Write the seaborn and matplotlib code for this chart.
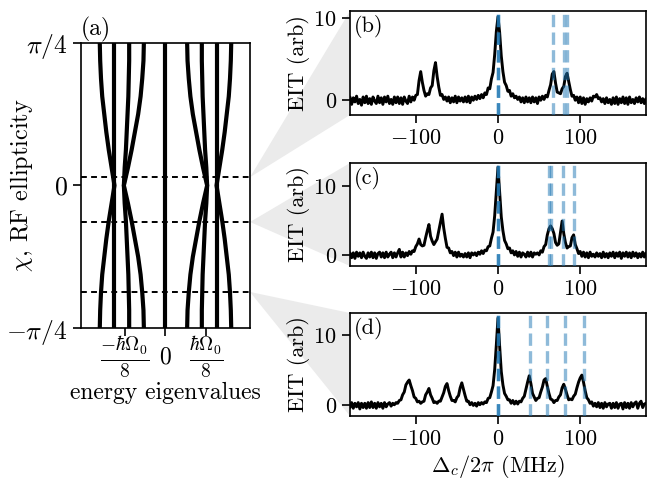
import numpy as np
import matplotlib
matplotlib.use('Agg')
import matplotlib.pyplot as plt
from matplotlib.patches import Polygon
import seaborn as sns

sns.set_style('ticks')
plt.rcParams.update({
    'font.family': 'serif',
    'font.serif': ['cmr10'],
    'mathtext.fontset': 'cm',
    'axes.formatter.use_mathtext': True,
    'axes.unicode_minus': True,
    'font.size': 16,
    'axes.linewidth': 1.2,
    'xtick.major.width': 1.2, 'ytick.major.width': 1.2,
    'xtick.major.size': 6, 'ytick.major.size': 6,
    'xtick.direction': 'out', 'ytick.direction': 'out',
    'axes.edgecolor': 'black', 'xtick.color': 'black', 'ytick.color': 'black',
    'text.color': 'black', 'axes.labelcolor': 'black',
})

# ---------------- panel (a): energy eigenvalues vs ellipticity ----------------
# chi in units of pi/4
chi_levels = [-1.0, -0.875, -0.75, -0.625, -0.5, -0.375, -0.25, -0.125, 0.0,
              0.125, 0.25, 0.375, 0.5, 0.625, 0.75, 0.875, 1.0]
# energies in units of hbar*Omega0/8
level_A = [-1.61, -1.60, -1.58, -1.55, -1.50, -1.45, -1.39, -1.32, -1.25,
           -1.32, -1.39, -1.45, -1.50, -1.55, -1.58, -1.60, -1.61]
level_B = [-1.26, -1.26, -1.26, -1.26, -1.26, -1.26, -1.26, -1.26, -1.26,
           -1.26, -1.26, -1.26, -1.26, -1.26, -1.26, -1.26, -1.26]
level_C = [-0.89, -0.89, -0.90, -0.91, -0.93, -0.95, -0.97, -1.00, -1.02,
           -1.00, -0.97, -0.95, -0.93, -0.91, -0.90, -0.89, -0.89]
level_D = [-0.53, -0.54, -0.57, -0.61, -0.67, -0.75, -0.83, -0.92, -1.02,
           -0.92, -0.83, -0.75, -0.67, -0.61, -0.57, -0.54, -0.53]
level_E = [0.0, 0.0, 0.0, 0.0, 0.0, 0.0, 0.0, 0.0, 0.0,
           0.0, 0.0, 0.0, 0.0, 0.0, 0.0, 0.0, 0.0]
level_F = [0.53, 0.54, 0.57, 0.61, 0.67, 0.75, 0.83, 0.92, 1.02,
           0.92, 0.83, 0.75, 0.67, 0.61, 0.57, 0.54, 0.53]
level_G = [0.89, 0.89, 0.90, 0.91, 0.93, 0.95, 0.97, 1.00, 1.02,
           1.00, 0.97, 0.95, 0.93, 0.91, 0.90, 0.89, 0.89]
level_H = [1.26, 1.26, 1.26, 1.26, 1.26, 1.26, 1.26, 1.26, 1.26,
           1.26, 1.26, 1.26, 1.26, 1.26, 1.26, 1.26, 1.26]
level_I = [1.61, 1.60, 1.58, 1.55, 1.50, 1.45, 1.39, 1.32, 1.25,
           1.32, 1.39, 1.45, 1.50, 1.55, 1.58, 1.60, 1.61]
levels = [level_A, level_B, level_C, level_D, level_E,
          level_F, level_G, level_H, level_I]

# ellipticities (units of pi/4) of the three measured spectra
chi_measured = [0.058, -0.256, -0.747]

energy_ticks = [-1, 0, 1]
energy_ticklabels = [r'$\frac{-\hbar\Omega_0}{8}$', r'$0$', r'$\frac{\hbar\Omega_0}{8}$']
chi_ticks = [-1, 0, 1]
chi_ticklabels = [r'$-\pi/4$', r'$0$', r'$\pi/4$']

# ---------------- spectra ----------------
freq = np.arange(-180, 181, 2)  # MHz sample grid

eit_b = [
    0.4, -0.5, 0.3, -0.2, 0.5, -0.4, 0.1, -0.6, 0.4, -0.3,
    0.5, -0.4, 0.2, -0.5, 0.4, -0.1, -0.4, 0.5, -0.3, 0.3,
    -0.5, 0.4, -0.2, 0.5, -0.4, 0.1, -0.5, 0.4, -0.3, 0.4,
    -0.4, 0.3, -0.5, 0.4, -0.1, -0.4, 0.5, -0.2, 0.4, 0.0,
    0.6, 0.7, 2.4, 3.5, 2.2, 1.2, 0.5, 0.8, 0.7, 1.5,
    1.8, 3.6, 4.6, 2.9, 1.6, 0.6, 0.7, 0.1, 0.4, -0.1,
    0.4, -0.3, 0.3, -0.2, 0.5, -0.3, 0.4, -0.1, 0.3, -0.2,
    0.4, -0.2, 0.5, -0.3, 0.4, 0.0, 0.5, 0.1, 0.6, 0.2,
    0.7, 0.3, 0.9, 0.7, 1.5, 1.4, 2.6, 3.4, 5.6, 8.4,
    10.2, 8.3, 5.4, 3.5, 2.2, 1.8, 1.1, 1.2, 0.5, 0.8,
    0.3, 0.5, 0.1, 0.4, -0.2, 0.3, -0.3, 0.4, -0.2, 0.3,
    -0.3, 0.4, -0.2, 0.3, -0.4, 0.4, 0.0, 0.5, 0.1, 0.6,
    0.4, 1.2, 1.9, 3.2, 3.5, 2.1, 1.0, 0.9, 0.8, 1.4,
    1.7, 2.9, 3.3, 2.3, 1.3, 0.5, 0.6, 0.0, 0.4, -0.3,
    0.4, -0.4, 0.3, -0.5, 0.2, -0.2, 0.3, -0.1, 0.5, 0.4,
    0.7, 0.2, 0.3, -0.2, 0.2, -0.4, 0.3, -0.3, 0.1, -0.5,
    0.3, -0.4, 0.4, -0.5, 0.2, -0.3, 0.4, -0.4, 0.3, -0.5,
    0.4, -0.3, 0.1, -0.4, 0.3, -0.2, 0.4, -0.3, 0.2, -0.4,
    0.2]

eit_c = [
    0.3, -0.4, 0.3, -0.5, 0.4, -0.2, 0.3, -0.4, 0.4, -0.2,
    -0.5, 0.3, -0.3, 0.4, -0.4, 0.3, -0.5, 0.2, 0.4, -0.3,
    0.3, -0.4, 0.4, -0.3, 0.1, 0.4, -0.4, 0.3, -0.3, 0.3,
    0.8, -0.3, 0.4, -0.3, 0.3, -0.1, 0.5, 0.1, 0.6, 0.5,
    1.2, 1.6, 2.3, 1.5, 1.3, 1.4, 2.5, 3.5, 4.4, 2.7,
    2.0, 1.5, 1.9, 2.3, 3.5, 4.7, 5.9, 3.9, 2.4, 1.1,
    1.0, 0.3, 0.5, -0.1, 0.4, -0.3, 0.4, -0.2, 0.1, -0.3,
    0.2, -0.3, 0.3, -0.4, 0.3, 0.0, 0.3, -0.1, 0.4, 0.1,
    0.6, 0.2, 0.7, 0.6, 1.2, 1.3, 2.4, 3.3, 5.7, 9.3,
    12.7, 9.0, 5.5, 3.5, 2.1, 1.6, 0.9, 1.0, 0.3, 0.6,
    0.0, 0.5, -0.2, 0.4, -0.3, 0.3, 0.1, -0.3, 0.4, -0.2,
    0.4, -0.3, 0.3, 0.1, 0.3, 0.0, 0.6, 0.4, 1.2, 1.5,
    2.9, 3.8, 4.2, 3.8, 3.1, 1.8, 1.4, 1.6, 3.3, 4.9,
    3.1, 1.8, 1.0, 1.2, 1.3, 2.5, 2.9, 1.5, 0.9, 0.2,
    0.5, -0.2, 0.4, -0.3, 0.3, -0.4, 0.4, -0.2, 0.1, -0.3,
    0.3, -0.2, 0.2, -0.4, 0.4, -0.3, 0.2, -0.4, 0.3, -0.2,
    0.4, -0.4, 0.3, -0.2, 0.4, -0.5, 0.3, -0.2, 0.4, -0.3,
    0.3, -0.4, 0.4, -0.2, 0.3, -0.4, 0.2, -0.3, 0.4, -0.3,
    0.3]

eit_d = [
    -0.3, 0.4, -0.4, 0.3, -0.2, 0.4, -0.5, 0.3, -0.3, 0.3,
    -0.4, 0.4, -0.3, 0.5, -0.3, 0.3, -0.4, 0.4, -0.2, 0.3,
    -0.4, 0.4, -0.2, 0.2, 0.4, -0.1, 0.3, 0.1, 0.4, 0.3,
    0.7, 0.8, 1.5, 1.9, 2.9, 3.3, 3.6, 2.8, 2.1, 1.2,
    1.0, 0.5, 0.6, 0.3, 0.5, 0.6, 1.5, 1.9, 2.4, 1.5,
    1.0, 0.4, 0.5, 0.3, 0.6, 0.6, 1.2, 1.8, 2.7, 3.1,
    2.1, 1.3, 0.7, 0.7, 0.5, 1.1, 1.4, 2.5, 3.2, 2.3,
    1.4, 0.6, 0.6, 0.1, 0.4, 0.0, 0.3, -0.1, 0.4, 0.1,
    0.4, 0.2, 0.5, 0.4, 1.0, 1.1, 1.9, 2.8, 5.1, 8.6,
    12.4, 8.4, 4.8, 2.9, 1.7, 1.3, 0.8, 0.8, 0.3, 0.7,
    0.2, 0.6, 0.2, 0.6, 0.5, 1.0, 1.3, 2.3, 3.3, 4.2,
    3.1, 1.7, 1.2, 0.7, 1.0, 1.1, 1.9, 2.6, 3.6, 3.8,
    2.7, 1.7, 0.9, 0.8, 0.4, 0.7, 0.7, 1.2, 1.5, 2.5,
    3.0, 2.3, 1.5, 0.8, 0.9, 0.8, 1.3, 1.6, 2.5, 3.3,
    3.9, 4.3, 3.3, 2.1, 1.1, 0.8, 0.3, 0.5, -0.1, 0.3,
    -0.2, 0.4, -0.3, 0.3, -0.4, 0.4, -0.2, 0.2, 0.3, -0.4,
    0.3, -0.3, 0.4, -0.4, 0.2, 0.3, -0.5, 0.4, -0.3, 0.3,
    -0.4, 0.4, -0.2, 0.3, 0.5, -0.4, 0.3, 0.6, -0.3, 0.2,
    0.3]

lines_b = [0, 0, 0, 67, 80, 84]
lines_c = [0, 0, 0, 61.5, 64.5, 79, 92]
lines_d = [0, 0, 0, 39, 59.5, 82, 104.5]

panel_labels = ['(b)', '(c)', '(d)']
freq_ticks = [-100, 0, 100]
freq_ticklabels = [r'${-}100$', r'$0$', r'$100$']
eit_ticks = [0, 10]
eit_ticklabels = [r'$0$', r'$10$']
ylims = [(-1.8, 10.9), (-1.6, 13.3), (-1.5, 13.1)]

# ---------------- figure ----------------
fig = plt.figure(figsize=(6.48, 4.83), dpi=100)
ax_a = fig.add_axes([0.125, 0.3209, 0.2608, 0.5901])
ax_b = fig.add_axes([0.5401, 0.7619, 0.4568, 0.2153])
ax_c = fig.add_axes([0.5401, 0.4493, 0.4568, 0.2132])
ax_d = fig.add_axes([0.5401, 0.1387, 0.4568, 0.2133])
spec_axes = [ax_b, ax_c, ax_d]

chi_rad = np.array(chi_levels) * np.pi / 4
for lv in levels:
    sns.lineplot(x=lv, y=chi_rad, sort=False, estimator=None, color='black',
                 lw=3.0, ax=ax_a, zorder=3)
for cm in chi_measured:
    ax_a.axhline(cm * np.pi / 4, color='black', lw=1.4, ls=(0, (3, 2.2)), zorder=2)
ax_a.set_xlim(-2.07, 2.07)
ax_a.set_ylim(-np.pi / 4, np.pi / 4)
ax_a.set_xticks(energy_ticks)
ax_a.set_xticklabels(energy_ticklabels)
ax_a.tick_params(axis='x', pad=15)
xtl = ax_a.get_xticklabels()
for i, t in enumerate(xtl):
    t.set_va('center')
    t.set_fontsize(20 if i != 1 else 17)
ax_a.set_yticks(np.array(chi_ticks) * np.pi / 4)
ax_a.set_yticklabels(chi_ticklabels, fontsize=18.5)
ax_a.set_xlabel('energy eigenvalues', labelpad=2, fontsize=17)
ax_a.set_ylabel(r'$\chi$, RF ellipticity', fontsize=17.5)
ax_a.yaxis.set_label_coords(-0.27, 0.5)
ax_a.text(0.0, 1.005, '(a)', transform=ax_a.transAxes, ha='left', va='bottom',
          fontsize=17)

spectra = [eit_b, eit_c, eit_d]
vlines = [lines_b, lines_c, lines_d]
for ax, ys, vl, lab, yl in zip(spec_axes, spectra, vlines, panel_labels, ylims):
    sns.lineplot(x=freq, y=ys, color='black', lw=2.1, estimator=None, ax=ax, zorder=2)
    for v in vl:
        ax.axvline(v, color='#1f77b4', alpha=0.5, lw=2.4, ls='--', zorder=3)
    ax.set_xlim(-180, 180)
    ax.set_ylim(*yl)
    ax.set_xticks(freq_ticks)
    ax.set_xticklabels(freq_ticklabels)
    ax.set_yticks(eit_ticks)
    ax.set_yticklabels(eit_ticklabels)
    ax.set_ylabel('EIT (arb)')
    ax.yaxis.set_label_coords(-0.135, 0.5)
    ax.text(0.012, 0.96, lab, transform=ax.transAxes, ha='left', va='top')
ax_d.set_xlabel(r'$\Delta_c/2\pi$ (MHz)', labelpad=3)

# grey wedges linking the dashed lines to the spectra
fig.canvas.draw()
inv = fig.transFigure.inverted()
for cm, ax in zip(chi_measured, spec_axes):
    apex = inv.transform(ax_a.transData.transform((2.07, cm * np.pi / 4)))
    top = inv.transform(ax.transAxes.transform((0, 1)))
    bot = inv.transform(ax.transAxes.transform((0, 0)))
    poly = Polygon([apex, top, bot], closed=True, transform=fig.transFigure,
                   facecolor='#ebebeb', edgecolor='none', zorder=-1)
    fig.add_artist(poly)

fig.savefig('out.png', dpi=100)
